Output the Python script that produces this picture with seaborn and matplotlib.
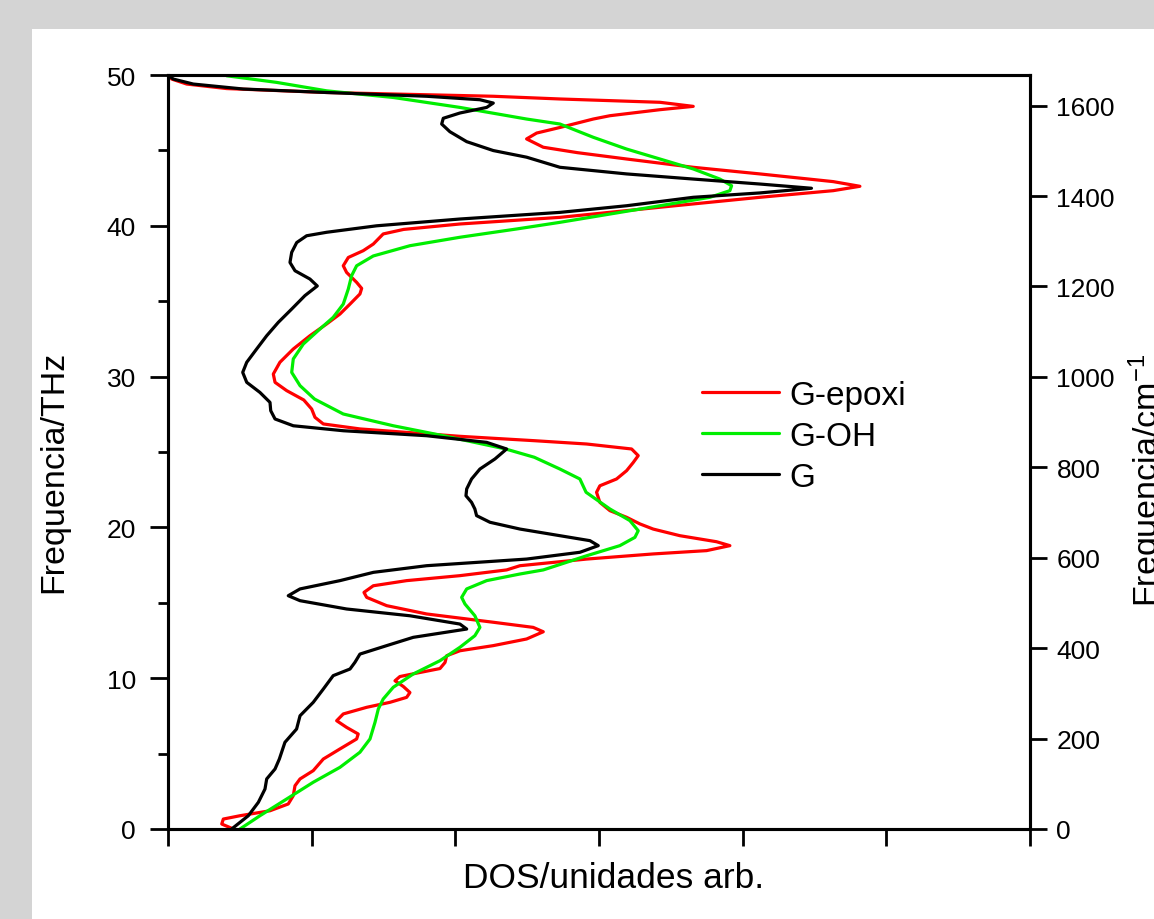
import matplotlib
matplotlib.use("Agg")
import matplotlib.pyplot as plt
from matplotlib.patches import Rectangle
from matplotlib.ticker import MultipleLocator
import seaborn as sns
import pandas as pd

# ---- data (frequency in THz, DOS in arbitrary units) ----
series_names = ["G-epoxi", "G-OH", "G"]
series_colors = ["#ff0000", "#00ee00", "#000000"]

g_freq = [0.00, 0.88, 1.77, 2.65, 3.32, 3.98, 4.64, 5.75, 6.63, 7.51, 8.40, 9.28, 10.17,
          10.61, 11.05, 11.60, 12.16, 12.71, 13.26, 13.59, 14.14, 14.59, 15.14, 15.47,
          15.92, 16.47, 17.02, 17.46, 17.90, 18.35, 18.79, 19.12, 19.45, 19.89, 20.34,
          20.78, 21.22, 21.66, 22.10, 22.55, 23.21, 23.87, 24.54, 25.20, 25.64, 26.08,
          26.41, 26.74, 27.19, 27.74, 28.29, 28.95, 29.62, 30.28, 30.95, 31.83, 32.71,
          33.60, 34.48, 35.37, 36.01, 36.47, 37.02, 37.57, 38.24, 38.89, 39.34, 39.57,
          40.00, 40.45, 40.89, 41.33, 41.89, 42.18, 42.49, 42.77, 43.10, 43.44, 43.88,
          44.55, 44.99, 45.58, 46.24, 46.75, 47.13, 47.48, 47.85, 48.14, 48.36, 48.59,
          48.84, 49.07, 49.40, 49.73, 50.00]
g_dos = [4.43, 5.59, 6.29, 6.75, 6.87, 7.45, 7.75, 8.14, 8.95, 9.19, 10.11, 10.81, 11.50,
         12.67, 13.01, 13.36, 15.22, 17.07, 20.79, 20.32, 16.84, 12.43, 9.19, 8.37,
         9.19, 11.97, 14.30, 18.00, 24.96, 28.67, 29.95, 29.37, 27.28, 24.50, 22.41,
         21.48, 21.36, 21.13, 20.74, 20.79, 21.13, 21.71, 22.76, 23.57, 22.18, 18.00,
         12.20, 8.72, 7.45, 7.15, 7.10, 6.40, 5.48, 5.20, 5.48, 6.17, 6.87,
         7.68, 8.61, 9.53, 10.39, 9.88, 8.84, 8.49, 8.61, 8.96, 9.65, 11.04,
         14.52, 20.32, 27.28, 31.92, 36.56, 41.20, 44.79, 41.20, 36.56, 31.92, 27.28,
         24.96, 22.64, 20.79, 19.62, 19.05, 19.16, 20.32, 22.18, 22.64, 21.71, 18.00,
         11.04, 5.24, 1.76, 0.37, 0.00]

epoxi_freq = [0.05, 0.33, 0.66, 0.88, 1.21, 1.66, 2.21, 2.87, 3.32, 3.87, 4.64, 5.31, 5.97,
              6.30, 6.74, 7.18, 7.63, 8.07, 8.40, 8.73, 9.05, 9.45, 9.83, 10.11, 10.38,
              10.64, 11.04, 11.49, 11.82, 12.16, 12.60, 13.08, 13.37, 13.71, 14.26, 14.81,
              15.36, 15.69, 16.13, 16.47, 16.80, 17.18, 17.46, 17.90, 18.24, 18.46, 18.79,
              19.05, 19.45, 19.89, 20.23, 20.67, 21.11, 21.66, 22.33, 22.76, 23.21, 23.76,
              24.30, 24.76, 25.20, 25.53, 25.75, 26.04, 26.53, 26.86, 27.30, 27.85, 28.45,
              29.07, 29.62, 30.17, 30.95, 31.83, 32.71, 33.49, 34.15, 34.81, 35.48, 35.85,
              36.25, 36.91, 37.35, 37.90, 38.35, 38.79, 39.46, 39.76, 40.12, 40.56, 41.23,
              41.89, 42.33, 42.62, 42.93, 43.44, 43.88, 44.43, 44.85, 45.21, 45.76, 46.15,
              46.52, 47.08, 47.30, 47.70, 47.92, 48.19, 48.41, 48.59, 48.84, 49.10, 49.40,
              49.73, 50.00]
epoxi_dos = [4.43, 3.74, 3.85, 5.01, 7.10, 8.37, 8.72, 8.84, 9.19, 10.11, 10.81, 11.97, 13.13,
             13.24, 12.43, 11.74, 12.20, 13.83, 15.45, 16.61, 16.84, 16.38, 15.80, 16.14, 17.54,
             18.93, 19.28, 19.40, 20.32, 22.64, 24.96, 26.12, 25.42, 22.64, 18.00, 15.22,
             13.83, 13.64, 14.29, 16.61, 20.32, 23.57, 24.50, 29.14, 33.77, 37.49, 39.11,
             38.18, 35.63, 33.77, 32.85, 31.92, 30.76, 30.06, 29.83, 30.06, 31.22, 31.92,
             32.38, 32.73, 32.27, 29.14, 25.50, 20.32, 13.36, 10.81, 10.23, 10.00, 9.45,
             8.26, 7.45, 7.33, 7.79, 8.72, 9.88, 11.04, 11.97, 12.67, 13.36, 13.48,
             13.13, 12.43, 12.20, 12.55, 13.59, 14.29, 14.98, 16.40, 20.32, 27.28, 34.24,
             41.20, 46.30, 48.16, 46.30, 41.20, 36.56, 31.92, 28.50, 26.12, 24.96, 25.66,
             27.28, 29.60, 30.76, 34.24, 36.56, 34.24, 27.28, 22.64, 11.04, 4.08, 1.30,
             0.26, 0.00]

oh_freq = [0.00, 0.88, 1.99, 3.10, 4.09, 5.09, 5.97, 7.08, 7.96, 8.62, 9.40, 10.28, 11.16,
           12.05, 12.82, 13.37, 14.14, 14.92, 15.36, 15.92, 16.47, 16.91, 17.18, 18.12,
           18.79, 19.34, 19.78, 20.45, 21.22, 22.33, 23.21, 23.87, 24.65, 25.20, 26.08,
           26.74, 27.52, 28.51, 29.40, 30.28, 31.17, 32.16, 33.16, 33.93, 34.81, 35.81,
           36.69, 37.35, 38.00, 38.68, 39.24, 39.79, 40.23, 41.33, 41.89, 42.33, 42.66,
           43.10, 43.77, 44.43, 45.09, 45.87, 46.75, 47.08, 47.85, 48.51, 48.95, 49.51,
           49.95]
oh_dos = [5.01, 6.40, 8.26, 10.11, 11.97, 13.36, 14.06, 14.41, 14.64, 14.98, 15.68, 17.07, 18.93,
          20.32, 21.36, 21.71, 21.36, 20.67, 20.44, 20.79, 22.18, 24.50, 26.12, 29.14,
          31.45, 32.50, 32.73, 32.15, 30.76, 29.10, 28.67, 27.28, 25.50, 23.50, 19.16,
          15.68, 12.20, 10.20, 9.19, 8.61, 8.72, 9.42, 10.58, 11.50, 12.20, 12.55,
          12.78, 13.13, 14.29, 16.84, 20.32, 24.27, 27.28, 34.24, 37.72, 39.11, 39.23,
          38.41, 36.56, 34.24, 31.92, 29.60, 27.28, 24.96, 20.32, 15.68, 11.04, 7.56,
          4.08]

x_ticks = [0, 10, 20, 30, 40, 50, 60]
y_ticks = [0, 10, 20, 30, 40, 50]
y2_ticks = [0, 200, 400, 600, 800, 1000, 1200, 1400, 1600]
THZ_TO_CM = 33.356

# ---- build table ----
frames = []
for name, fr, ds in [("G-epoxi", epoxi_freq, epoxi_dos),
                     ("G-OH", oh_freq, oh_dos),
                     ("G", g_freq, g_dos)]:
    frames.append(pd.DataFrame({"freq": fr, "dos": ds, "amostra": name}))
df = pd.concat(frames, ignore_index=True)

sns.set_theme(style="ticks")
plt.rcParams["font.family"] = ["Liberation Sans", "DejaVu Sans"]
plt.rcParams["mathtext.default"] = "regular"
for key in ["text.color", "axes.labelcolor", "xtick.color", "ytick.color", "axes.edgecolor"]:
    plt.rcParams[key] = "black"

fig = plt.figure(figsize=(11.54, 9.2), dpi=100, facecolor="#d4d4d4")
fig.patches.append(Rectangle((32 / 1154, 0), 1 - 32 / 1154, 1 - 30 / 920,
                             transform=fig.transFigure, facecolor="white",
                             edgecolor="none", zorder=-5))
ax = fig.add_axes([168 / 1154, 90 / 920, 862 / 1154, 754 / 920])
ax.set_facecolor("white")

sns.lineplot(data=df, x="dos", y="freq", hue="amostra", hue_order=series_names,
             palette=series_colors, sort=False, estimator=None, orient="y",
             linewidth=2.3, ax=ax)

ax.set_xlim(0, 60)
ax.set_ylim(0, 50)
ax.set_xticks(x_ticks)
ax.set_yticks(y_ticks)
ax.yaxis.set_minor_locator(MultipleLocator(5))
for s in ax.spines.values():
    s.set_linewidth(2.2)
    s.set_color("black")
ax.tick_params(axis="x", which="both", length=12, width=2, direction="out",
               labelbottom=False, top=False, color="black")
ax.tick_params(axis="y", which="major", length=13, width=2, direction="out",
               labelsize=19, pad=10, right=False, color="black", labelcolor="black")
ax.tick_params(axis="y", which="minor", length=7, width=2, direction="out", right=False,
               color="black")

ax.set_xlabel("DOS/unidades arb.", fontsize=25.5, color="black")
ax.set_ylabel("Frequencia/THz", fontsize=24.5, color="black")
ax.xaxis.set_label_coords(0.517, -0.043)
ax.yaxis.set_label_coords(-0.114, 0.475)

ax2 = ax.twinx()
ax2.set_ylim(0, 50 * THZ_TO_CM)
ax2.set_yticks(y2_ticks)
ax2.tick_params(axis="y", length=12, width=2, direction="out", labelsize=19, pad=7,
                color="black", labelcolor="black")
for s in ax2.spines.values():
    s.set_linewidth(2.2)
    s.set_color("black")
ax2.set_ylabel("Frequencia/cm$^{-1}$", fontsize=24.5, color="black")
ax2.yaxis.set_label_coords(1.1125, 0.464)

leg = ax.legend(loc="center left", bbox_to_anchor=(0.62, 0.521), frameon=False,
                fontsize=24, handlelength=2.3, handletextpad=0.3, labelspacing=0.3,
                borderpad=0, borderaxespad=0, title=None)
for line in leg.get_lines():
    line.set_linewidth(2.3)
for t in leg.get_texts():
    t.set_color("black")

fig.savefig("out.png", dpi=100, facecolor=fig.get_facecolor())
